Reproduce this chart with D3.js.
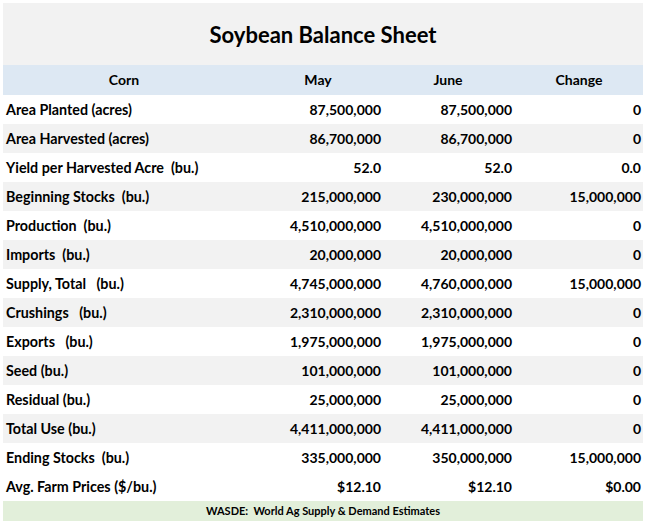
<!DOCTYPE html><html><head><meta charset="utf-8">
<script src="https://cdn.jsdelivr.net/npm/d3@7"></script>
<style>body{margin:0;background:#fff} text{white-space:pre}</style></head><body>
<script>
const title = "Soybean Balance Sheet";
const headers = ["Corn","May","June","Change"];
const labels = ["Area Planted (acres)","Area Harvested (acres)","Yield per Harvested Acre  (bu.)","Beginning Stocks  (bu.)","Production  (bu.)","Imports  (bu.)","Supply, Total   (bu.)","Crushings   (bu.)","Exports   (bu.)","Seed (bu.)","Residual (bu.)","Total Use (bu.)","Ending Stocks  (bu.)","Avg. Farm Prices ($/bu.)"];
const may = ["87,500,000","86,700,000","52.0","215,000,000","4,510,000,000","20,000,000","4,745,000,000","2,310,000,000","1,975,000,000","101,000,000","25,000,000","4,411,000,000","335,000,000","$12.10"];
const june = ["87,500,000","86,700,000","52.0","230,000,000","4,510,000,000","20,000,000","4,760,000,000","2,310,000,000","1,975,000,000","101,000,000","25,000,000","4,411,000,000","350,000,000","$12.10"];
const change = ["0","0","0.0","15,000,000","0","0","15,000,000","0","0","0","0","0","15,000,000","$0.00"];
const footer = "WASDE:  World Ag Supply & Demand Estimates";

const svg = d3.select("body").append("svg").attr("width",646).attr("height",524)
  .style("font-family","Lato, 'Open Sans', sans-serif").style("font-weight","bold");
const x0=3, x1=643;
const y = d3.scaleBand().domain(d3.range(labels.length)).range([95,501]);
svg.append("rect").attr("x",x0).attr("y",3).attr("width",x1-x0).attr("height",62).attr("fill","#f2f2f2");
svg.append("text").attr("x",323).attr("y",43).attr("text-anchor","middle").attr("font-size",22).attr("fill","#000").text(title);
svg.append("rect").attr("x",x0).attr("y",65).attr("width",x1-x0).attr("height",30).attr("fill","#dde8f3");
const centers=[124,318,448,579], rights=[null,381,512,641];
headers.forEach((h,i)=>svg.append("text").attr("x",centers[i]).attr("y",85).attr("text-anchor","middle").attr("font-size",14).text(h));
labels.forEach((l,i)=>{
  const g=svg.append("g");
  g.append("rect").attr("x",x0).attr("y",y(i)).attr("width",x1-x0).attr("height",y.bandwidth())
    .attr("fill",(i%2===1 && i<13)?"#f2f2f2":"#fff");
  const ty=y(i)+y.bandwidth()/2+5;
  g.append("text").attr("x",6).attr("y",ty).attr("font-size",14.3).text(l);
  [may,june,change].forEach((arr,j)=>g.append("text").attr("x",rights[j+1]).attr("y",ty).attr("text-anchor","end").attr("font-size",14).text(arr[i]));
});
svg.append("rect").attr("x",x0).attr("y",501).attr("width",x1-x0).attr("height",20).attr("fill","#e2efda");
svg.append("text").attr("x",323).attr("y",515).attr("text-anchor","middle").attr("font-size",11).text(footer);
</script></body></html>
